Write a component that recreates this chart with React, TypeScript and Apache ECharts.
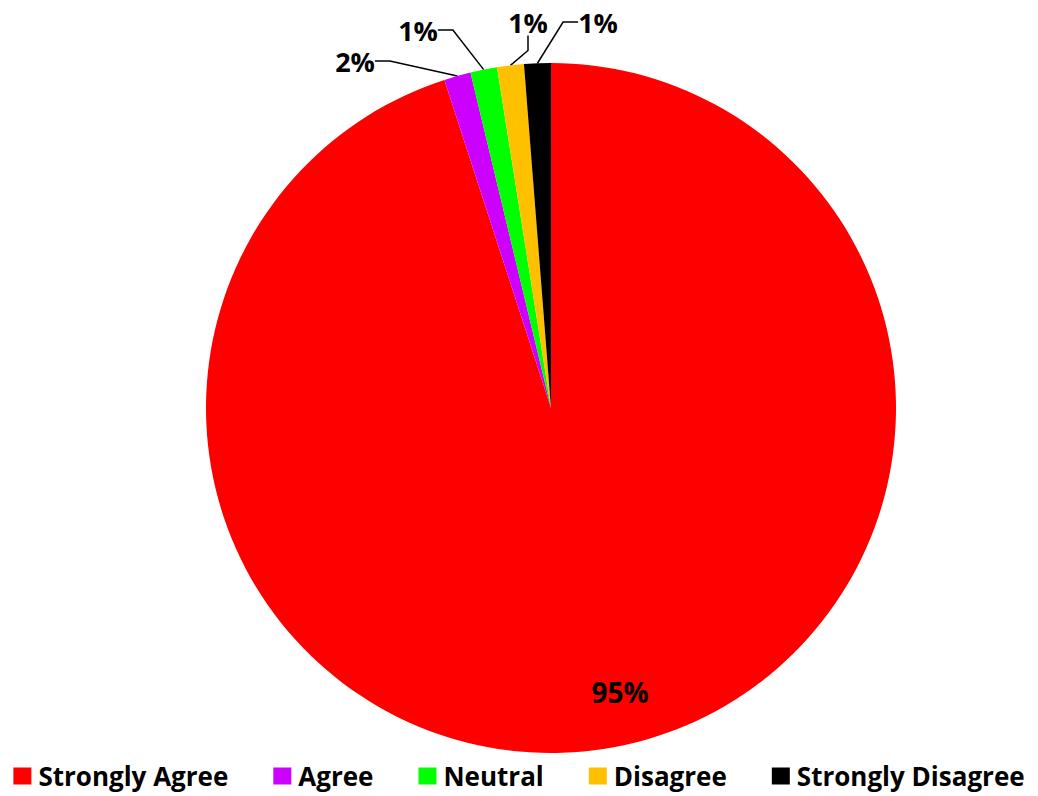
import React, { useEffect, useRef } from "react";
import * as echarts from "echarts";

const categories = ["Strongly Agree", "Agree", "Neutral", "Disagree", "Strongly Disagree"];
const counts = [76, 1, 1, 1, 1];
const colors = ["#FF0000", "#CC00FF", "#00FF00", "#FFC000", "#000000"];

// label anchor positions (layout only)
const labelPos: [number, number][] = [
  [620, 692],
  [355, 61],
  [418, 30],
  [528, 22],
  [598, 22],
];

const FONT = "'Open Sans', 'Liberation Sans', sans-serif";

export default function App() {
  const ref = useRef<HTMLDivElement>(null);
  useEffect(() => {
    if (!ref.current) return;
    const chart = echarts.init(ref.current, undefined, { renderer: "svg" });
    chart.setOption({
      animation: false,
      backgroundColor: "#ffffff",
      legend: {
        left: "center",
        top: 757,
        itemWidth: 18,
        itemHeight: 17,
        itemGap: 45,
        icon: "rect",
        data: categories,
        textStyle: {
          fontFamily: FONT,
          fontWeight: "bold",
          fontSize: 26,
          color: "#000",
          padding: [0, 0, 0, 2],
          lineHeight: 28,
        },
      },
      series: [
        {
          type: "pie",
          center: [551, 408],
          radius: 345,
          startAngle: 90,
          clockwise: true,
          percentPrecision: 0,
          avoidLabelOverlap: false,
          itemStyle: { borderWidth: 0 },
          label: {
            show: true,
            position: "outside",
            formatter: "{d}%",
            fontFamily: FONT,
            fontWeight: "bold",
            fontSize: 27,
            color: "#000",
          },
          labelLine: {
            show: true,
            length: 20,
            length2: 15,
            lineStyle: { color: "#000", width: 1.5 },
          },
          labelLayout: (params: any) => {
            const p = labelPos[params.dataIndex];
            return { x: p[0], y: p[1], align: "center", verticalAlign: "middle" };
          },
          data: categories.map((name, i) => ({
            name,
            value: counts[i],
            itemStyle: { color: colors[i] },
            ...(i === 0
              ? { label: { fontSize: 28 }, labelLine: { show: false } }
              : {}),
          })),
        },
      ],
    });
    return () => chart.dispose();
  }, []);
  return (
    <div
      ref={ref}
      style={{ position: "absolute", left: 0, top: 0, width: 1038, height: 796 }}
    />
  );
}
